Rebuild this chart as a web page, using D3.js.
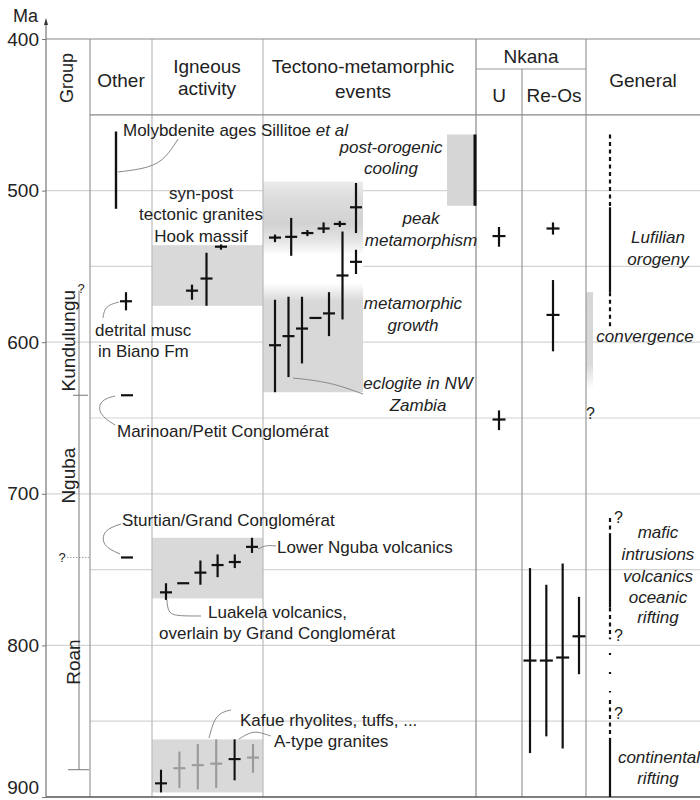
<!DOCTYPE html>
<html><head><meta charset="utf-8">
<script src="https://cdn.jsdelivr.net/npm/d3@7"></script>
<style>
body{margin:0;background:#fff}
text{font-family:"Liberation Sans",Arial,sans-serif;fill:#222}
</style>
</head><body>
<svg id="c" width="700" height="800"></svg>
<script>
// ---------------- DATA (ages in Ma) ----------------
const yTicks = [400, 500, 600, 700, 800, 900];
const gridMajor = [500, 600, 700, 800];
const gridMinor = [550, 650, 750, 850];
const headerBottomAge = 450;
const groupNames = ["Kundulungu", "Nguba", "Roan"];
const groupCentres = [599, 688, 811];
const groupBoundaries = [635, 742, 882];
const groupTopAge = 566;

// Other
const molybdenite = [461, 512];
const detritalMusc = [{age: 573, min: 567, max: 579}];
const marinoanAge = [635];
const sturtianAge = [742];

// Igneous activity
const hookBox = [536, 576];
const hookAges = [{age: 566, min: 562, max: 572}, {age: 558, min: 541, max: 576}, {age: 537, min: 535.5, max: 539}];
const ngubaBox = [729, 769];
const ngubaAges = [
  {age: 765, min: 759, max: 770}, {age: 759, min: 759, max: 759}, {age: 752, min: 744, max: 760},
  {age: 747, min: 740, max: 755}, {age: 745, min: 740, max: 749}, {age: 735, min: 729, max: 739}];
const kafueBox = [862, 897];
const kafueAges = [
  {age: 891, min: 882, max: 897, type: "A-type"}, {age: 881, min: 870, max: 894, type: "rhyolite"},
  {age: 879, min: 865, max: 895, type: "rhyolite"}, {age: 878, min: 862, max: 894, type: "rhyolite"},
  {age: 875, min: 862, max: 889, type: "A-type"}, {age: 874, min: 865, max: 884, type: "rhyolite"}];

// Tectono-metamorphic events
const peakBox = [494, 555];
const growthBox = [553, 633];
const peakAges = [
  {age: 531, min: 529, max: 534}, {age: 530.5, min: 518, max: 543}, {age: 528, min: 526, max: 530},
  {age: 525, min: 521, max: 528}, {age: 522, min: 520, max: 524}, {age: 511, min: 495, max: 528}];
const growthAges = [
  {age: 547, min: 539, max: 555}, {age: 556, min: 527, max: 585}, {age: 581, min: 567, max: 596},
  {age: 584, min: 584, max: 584}, {age: 591, min: 570, max: 614}, {age: 596, min: 570, max: 623},
  {age: 602, min: 572, max: 633}];
const coolingRange = [463, 510];

// Nkana
const nkanaU = [{age: 530, min: 524, max: 537}, {age: 651, min: 645, max: 658}];
const nkanaReOsUpper = [{age: 525, min: 521, max: 529}, {age: 582, min: 559, max: 606}];
const nkanaReOsLower = [
  {age: 810, min: 749, max: 871}, {age: 810, min: 760, max: 860},
  {age: 808, min: 746, max: 868}, {age: 794, min: 768, max: 819}];

// General
const convergenceRange = [567, 631];
const lufilianSegments = [
  {from: 463, to: 511, kind: "uncertain"}, {from: 511, to: 567, kind: "known"}, {from: 567, to: 590, kind: "uncertain"}];
const riftSegments = [
  {from: 716, to: 726, kind: "uncertain"}, {from: 726, to: 775, kind: "known"}, {from: 775, to: 796, kind: "uncertain"},
  {from: 805, to: 831, kind: "gap"}, {from: 836, to: 860, kind: "uncertain"}, {from: 861, to: 900, kind: "known"}];
const riftQuestions = [716, 794, 845];
const convergenceQuestion = [647];

// ---------------- DRAW ----------------
const svg = d3.select("#c");
const y = d3.scaleLinear().domain([400, 900]).range([39, 797]);
const X = {axis: 46, other: 90, ign: 152, tec: 263, u: 476, re: 522, gen: 586, right: 700};
const ink = "#111";

// grid
svg.append("g").selectAll("line").data(gridMajor).join("line")
  .attr("x1", X.axis).attr("x2", X.right).attr("y1", d => y(d)).attr("y2", d => y(d))
  .attr("stroke", "#d4d4d4").attr("stroke-width", 1.2);
svg.append("g").selectAll("line").data(gridMinor).join("line")
  .attr("x1", X.other).attr("x2", X.right).attr("y1", d => y(d)).attr("y2", d => y(d))
  .attr("stroke", "#d4d4d4").attr("stroke-width", 1.2);

// boxes
function box(r, x0, x1, fill) {
  svg.append("rect").attr("x", x0).attr("width", x1 - x0)
    .attr("y", y(r[0])).attr("height", y(r[1]) - y(r[0])).attr("fill", fill);
}
box(hookBox, X.ign, X.tec, "#d9d9d9");
box(ngubaBox, X.ign, X.tec, "#d9d9d9");
box(kafueBox, X.ign, X.tec, "#d9d9d9");
box(coolingRange, 447, X.u, "#d6d6d6");

const defs = svg.append("defs");
const gp = defs.append("linearGradient").attr("id", "gPeak").attr("x1", 0).attr("x2", 0).attr("y1", 0).attr("y2", 1);
[[0, "#ececec"], [0.15, "#dedede"], [0.45, "#d2d2d2"], [0.62, "#e2e2e2"], [0.8, "#ffffff"], [1, "#ffffff"]]
  .forEach(s => gp.append("stop").attr("offset", s[0]).attr("stop-color", s[1]));
const gg = defs.append("linearGradient").attr("id", "gGrowth").attr("x1", 0).attr("x2", 0).attr("y1", 0).attr("y2", 1);
[[0, "#ffffff"], [0.1, "#ffffff"], [0.25, "#d8d8d8"], [1, "#d8d8d8"]]
  .forEach(s => gg.append("stop").attr("offset", s[0]).attr("stop-color", s[1]));
const gc = defs.append("linearGradient").attr("id", "gConv").attr("x1", 0).attr("x2", 0).attr("y1", 0).attr("y2", 1);
[[0, "#d6d6d6"], [0.75, "#dadada"], [1, "#ffffff"]]
  .forEach(s => gc.append("stop").attr("offset", s[0]).attr("stop-color", s[1]));
box(peakBox, X.tec, 363, "url(#gPeak)");
box(growthBox, X.tec, 363, "url(#gGrowth)");
box(convergenceRange, X.gen, 593, "url(#gConv)");

// frame / columns
const frame = svg.append("g").attr("stroke-width", 1.2);
[[X.other, 39, 797, "#999"], [X.ign, 39, 797, "#bbb"], [X.tec, 39, 797, "#bbb"],
 [X.u, 39, 797, "#888"], [X.re, 69, 797, "#999"], [X.gen, 39, 797, "#999"]]
  .forEach(c => frame.append("line").attr("x1", c[0]).attr("x2", c[0]).attr("y1", c[1]).attr("y2", c[2]).attr("stroke", c[3]));
frame.append("line").attr("x1", X.axis).attr("x2", X.right).attr("y1", y(400)).attr("y2", y(400)).attr("stroke", "#888");
frame.append("line").attr("x1", X.other).attr("x2", X.right).attr("y1", y(headerBottomAge)).attr("y2", y(headerBottomAge)).attr("stroke", "#888");
frame.append("line").attr("x1", X.u).attr("x2", X.gen).attr("y1", 69).attr("y2", 69).attr("stroke", "#999");
frame.append("line").attr("x1", X.axis).attr("x2", X.right).attr("y1", y(900)).attr("y2", y(900)).attr("stroke", "#555").attr("stroke-width", 1.5);

// left axis
const axisG = svg.append("g").attr("transform", `translate(${X.axis},0)`)
  .call(d3.axisLeft(y).tickValues(yTicks).tickSize(4).tickPadding(3));
axisG.select(".domain").remove();
axisG.selectAll(".tick line").attr("stroke", "#777");
axisG.selectAll(".tick text").attr("font-size", 19).attr("fill", "#222")
  .attr("font-family", '"Liberation Sans",Arial,sans-serif')
  .attr("dy", d => d === 900 ? "-0.2em" : "0.32em");
svg.append("line").attr("x1", X.axis).attr("x2", X.axis).attr("y1", 24).attr("y2", 797).attr("stroke", "#777").attr("stroke-width", 1.2);
svg.append("path").attr("d", `M${X.axis - 2},25 L${X.axis},18 L${X.axis + 2},25 Z`).attr("fill", "#333");
svg.append("text").attr("x", 13).attr("y", 22).attr("font-size", 18).text("Ma");

// headers
function txt(x, yy, s, size, anchor, italic) {
  return svg.append("text").attr("x", x).attr("y", yy).attr("font-size", size)
    .attr("text-anchor", anchor || "start").attr("font-style", italic ? "italic" : null).text(s);
}
svg.append("text").attr("transform", "translate(73,78) rotate(-90)").attr("text-anchor", "middle")
  .attr("font-size", 18).text("Group");
txt(121, 87, "Other", 19, "middle");
txt(207, 73, "Igneous", 19, "middle");
txt(207, 95, "activity", 19, "middle");
txt(363, 73, "Tectono-metamorphic", 19, "middle");
txt(363, 98, "events", 19, "middle");
txt(531, 63, "Nkana", 19, "middle");
txt(499, 102, "U", 19, "middle");
txt(554, 102, "Re-Os", 19, "middle");
txt(643, 87, "General", 19, "middle");

// group column
const gcol = svg.append("g");
gcol.append("line").attr("x1", 79).attr("x2", 79).attr("y1", y(groupTopAge)).attr("y2", y(groupBoundaries[2]))
  .attr("stroke", "#777").attr("stroke-width", 1);
gcol.append("line").attr("x1", 73).attr("x2", 88).attr("y1", y(groupBoundaries[0])).attr("y2", y(groupBoundaries[0])).attr("stroke", "#777");
gcol.append("line").attr("x1", 68).attr("x2", 89).attr("y1", y(groupBoundaries[2])).attr("y2", y(groupBoundaries[2])).attr("stroke", "#777");
gcol.append("line").attr("x1", 67).attr("x2", 89).attr("y1", y(groupBoundaries[1])).attr("y2", y(groupBoundaries[1]))
  .attr("stroke", "#888").attr("stroke-dasharray", "1.5,1.5").attr("stroke-width", 0.8);
txt(62, y(groupBoundaries[1]) + 5, "?", 13, "middle");
txt(81, y(groupTopAge) + 2, "?", 13, "middle");
const groupBase = [75, 75, 80];
groupNames.forEach((n, i) => {
  svg.append("text").attr("transform", `translate(${groupBase[i]},${y(groupCentres[i])}) rotate(-90)`)
    .attr("text-anchor", "middle").attr("font-size", 19).text(n);
});

// marks
function crosses(data, xf, opts = {}) {
  const hw = opts.hw || 6, col = opts.color || (() => ink), sw = opts.sw || 2.2;
  const g = svg.append("g");
  g.selectAll(".v").data(data.filter(d => d.max > d.min)).join("line")
    .attr("x1", d => xf(d)).attr("x2", d => xf(d))
    .attr("y1", d => y(d.min)).attr("y2", d => y(d.max))
    .attr("stroke", d => col(d)).attr("stroke-width", sw);
  g.selectAll(".h").data(data).join("line")
    .attr("x1", d => xf(d) - hw).attr("x2", d => xf(d) + hw)
    .attr("y1", d => y(d.age)).attr("y2", d => y(d.age))
    .attr("stroke", d => col(d)).attr("stroke-width", sw);
}
function idxScale(data, r0, r1) {
  const s = d3.scalePoint().domain(d3.range(data.length)).range([r0, r1]);
  return d => s(data.indexOf(d));
}

// Other
svg.append("line").attr("x1", 116).attr("x2", 116).attr("y1", y(molybdenite[0])).attr("y2", y(molybdenite[1]))
  .attr("stroke", ink).attr("stroke-width", 2.4);
crosses(detritalMusc, () => 126);
crosses(marinoanAge.map(a => ({age: a, min: a, max: a})), () => 127);
crosses(sturtianAge.map(a => ({age: a, min: a, max: a})), () => 127);

// Igneous
crosses(hookAges, idxScale(hookAges, 192, 221));
crosses(ngubaAges, idxScale(ngubaAges, 166, 252));
crosses(kafueAges, idxScale(kafueAges, 161, 253), {color: d => d.type === "A-type" ? ink : "#9a9a9a", sw: 2.1});

// Tectono
crosses(peakAges, idxScale(peakAges, 275, 356));
crosses(growthAges, idxScale(growthAges, 356, 275));
svg.append("line").attr("x1", 475).attr("x2", 475).attr("y1", y(coolingRange[0])).attr("y2", y(coolingRange[1]))
  .attr("stroke", ink).attr("stroke-width", 3);

// Nkana
crosses(nkanaU, () => 499, {hw: 6.5});
crosses(nkanaReOsUpper, () => 553, {hw: 6.5});
crosses(nkanaReOsLower, idxScale(nkanaReOsLower, 530, 579), {hw: 6.5});

// General
const dash = {known: null, uncertain: "4,3.5", gap: "2,17"};
function segs(data, x) {
  svg.append("g").selectAll("line").data(data).join("line")
    .attr("x1", x).attr("x2", x).attr("y1", d => y(d.from)).attr("y2", d => y(d.to))
    .attr("stroke", ink).attr("stroke-width", 2.2).attr("stroke-dasharray", d => dash[d.kind]);
}
segs(lufilianSegments, 610);
segs(riftSegments, 610);
riftQuestions.forEach(a => txt(614, y(a) + 5, "?", 16));
convergenceQuestion.forEach(a => txt(586, y(a) + 6, "?", 16));

// connectors
const line = d3.line().curve(d3.curveBasis);
const connectors = [
  [[118, 172], [150, 168], [166, 158], [178, 139]],
  [[119, 302], [108, 305], [104, 311], [103, 318]],
  [[115, 396], [100, 400], [98, 414], [115, 425]],
  [[120, 554], [102, 546], [103, 530], [121, 524]],
  [[258, 549], [266, 545], [276, 546]],
  [[167, 600], [168, 614], [180, 616], [201, 616]],
  [[209, 738], [214, 719], [222, 712], [231, 710]],
  [[239, 739], [252, 731], [262, 733], [271, 736]],
  [[293, 378], [330, 382], [363, 394]]
];
svg.append("g").selectAll("path").data(connectors).join("path")
  .attr("d", d => line(d)).attr("fill", "none").attr("stroke", "#888").attr("stroke-width", 1);

// annotation texts
const mol = txt(123, 136, "Molybdenite ages Sillitoe ", 17);
mol.append("tspan").attr("font-style", "italic").text("et al");
txt(201, 199, "syn-post", 17, "middle");
txt(201, 220, "tectonic granites", 17, "middle");
txt(201, 242, "Hook massif", 17, "middle");
txt(95, 336, "detrital musc", 17);
txt(98, 357, "in Biano Fm", 17);
txt(117, 437, "Marinoan/Petit Conglomérat", 17);
txt(122, 526, "Sturtian/Grand Conglomérat", 17);
txt(277, 553, "Lower Nguba volcanics", 17);
txt(208, 618, "Luakela volcanics,", 17);
txt(159, 639, "overlain by Grand Conglomérat", 17);
txt(240, 726, "Kafue rhyolites, tuffs, ...", 17);
txt(274, 747, "A-type granites", 17);

txt(391, 153, "post-orogenic", 17, "middle", true);
txt(391, 174, "cooling", 17, "middle", true);
txt(421, 224, "peak", 17, "middle", true);
txt(421, 246, "metamorphism", 17, "middle", true);
txt(413, 309, "metamorphic", 17, "middle", true);
txt(413, 331, "growth", 17, "middle", true);
txt(418, 389, "eclogite in NW", 17, "middle", true);
txt(418, 411, "Zambia", 17, "middle", true);
txt(658, 243, "Lufilian", 17, "middle", true);
txt(658, 265, "orogeny", 17, "middle", true);
txt(645, 342, "convergence", 17, "middle", true);
[["mafic", 538], ["intrusions", 560], ["volcanics", 582], ["oceanic", 603], ["rifting", 623]]
  .forEach(t => txt(658, t[1], t[0], 17, "middle", true));
txt(659, 763, "continental", 17, "middle", true);
txt(658, 784, "rifting", 17, "middle", true);
</script>
</body></html>
